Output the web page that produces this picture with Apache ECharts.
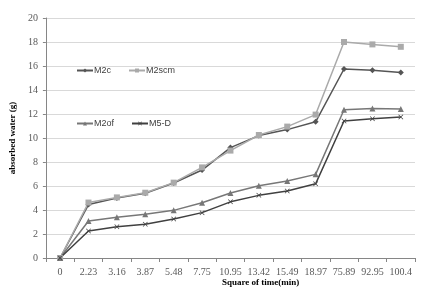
<!DOCTYPE html>
<html>
<head>
<meta charset="utf-8">
<script src="https://cdn.jsdelivr.net/npm/echarts@6/dist/echarts.min.js"></script>
<style>
  html, body { margin: 0; padding: 0; background: #fff; }
  #chart { width: 426px; height: 296px; }
</style>
</head>
<body>
<div id="chart"></div>
<script>
const categories = ["0", "2.23", "3.16", "3.87", "5.48", "7.75", "10.95", "13.42", "15.49", "18.97", "75.89", "92.95", "100.4"];
const m2c = [0, 4.45, 5.0, 5.4, 6.25, 7.33, 9.2, 10.2, 10.7, 11.35, 15.75, 15.65, 15.45];
const m2scm = [0, 4.62, 5.05, 5.44, 6.28, 7.55, 8.95, 10.25, 10.95, 11.95, 18.0, 17.8, 17.6];
const m2of = [0, 3.08, 3.39, 3.65, 3.97, 4.6, 5.42, 6.02, 6.42, 6.97, 12.35, 12.45, 12.42];
const m5d = [0, 2.25, 2.61, 2.82, 3.25, 3.78, 4.68, 5.22, 5.58, 6.18, 11.42, 11.6, 11.75];
const yTicks = { min: 0, max: 20, step: 2 };

const xMark = "path://M0,1L1,0L5,4L9,0L10,1L6,5L10,9L9,10L5,6L1,10L0,9L4,5Z";

const mChart = echarts.init(document.getElementById("chart"));

const line = (name, data, color, symbol, size) => ({
  name: name,
  type: "line",
  data: data,
  symbol: symbol,
  symbolSize: size,
  showSymbol: true,
  animation: false,
  lineStyle: { color: color, width: 1.5 },
  itemStyle: { color: color },
});

const legendBase = {
  left: 71,
  itemWidth: 16,
  itemHeight: 5,
  itemGap: 17,
  textStyle: { fontFamily: "Liberation Sans", fontSize: 9, color: "#404040", padding: [0, 0, 0, -4] },
};

mChart.setOption({
  backgroundColor: "#fff",
  grid: { left: 44, right: 11, top: 18, bottom: 38 },
  legend: [
    Object.assign({ top: 61, data: ["M2c", "M2scm"] }, legendBase),
    Object.assign({ top: 114, data: ["M2of", "M5-D"] }, legendBase),
  ],
  xAxis: {
    type: "category",
    data: categories,
    boundaryGap: true,
    axisLine: { lineStyle: { color: "#868686" } },
    axisTick: { show: true, length: 4, lineStyle: { color: "#868686" } },
    axisLabel: { fontFamily: "Liberation Serif", fontSize: 10, color: "#595959", margin: 9, interval: 0 },
  },
  yAxis: {
    type: "value",
    min: yTicks.min,
    max: yTicks.max,
    interval: yTicks.step,
    name: "absorbed water (g)",
    nameLocation: "middle",
    nameGap: 28,
    nameTextStyle: { fontFamily: "Liberation Serif", fontSize: 9, fontWeight: "bold", color: "#000" },
    axisLine: { show: true, lineStyle: { color: "#868686" } },
    axisTick: { show: true, length: 3, lineStyle: { color: "#868686" } },
    axisLabel: { fontFamily: "Liberation Serif", fontSize: 10, color: "#595959", margin: 8 },
    splitLine: { lineStyle: { color: "#d9d9d9" } },
  },
  graphic: [
    {
      type: "text",
      left: 222,
      top: 278,
      style: { text: "Square of time(min)", fontFamily: "Liberation Serif", fontSize: 9, fontWeight: "bold", fill: "#000" },
    },
  ],
  series: [
    line("M2c", m2c, "#555555", "diamond", 6),
    line("M2scm", m2scm, "#aaaaaa", "rect", 6),
    line("M2of", m2of, "#777777", "triangle", 6),
    line("M5-D", m5d, "#404040", xMark, 5),
  ],
});
</script>
</body>
</html>
